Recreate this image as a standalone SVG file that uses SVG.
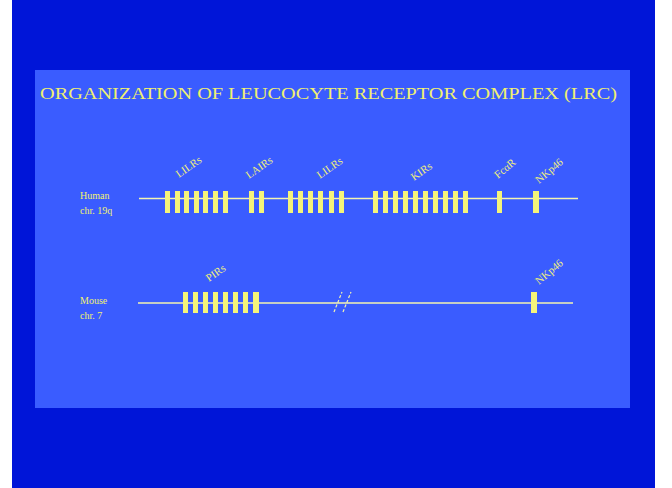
<svg xmlns="http://www.w3.org/2000/svg" width="672" height="488" viewBox="0 0 672 488">
<style>
.lbl{font-family:"Liberation Serif",serif;font-size:10px;fill:#f0f070}
.gl{font-family:"Liberation Serif",serif;font-size:11px;fill:#eeee80}
.chr{stroke:#f4f4b0;stroke-width:1.5}
.blk{fill:#f4f47a}
</style>
<rect width="672" height="488" fill="#ffffff"/>
<rect x="12" y="0" width="643" height="488" fill="#0015d8"/>
<rect x="35" y="70" width="595" height="338" fill="#3a5cff"/>
<text x="40" y="99" class="lbl" style="font-size:17px" textLength="577" lengthAdjust="spacingAndGlyphs">ORGANIZATION OF LEUCOCYTE  RECEPTOR COMPLEX (LRC)</text>

<g id="human">
<text x="80" y="199" class="lbl">Human</text>
<text x="80" y="214" class="lbl">chr. 19q</text>
</g>
<g id="mouse">
<text x="80" y="304" class="lbl">Mouse</text>
<text x="80" y="319" class="lbl">chr. 7</text>
</g>

<g id="connectors">
<line class="chr" x1="139" y1="198.5" x2="578" y2="198.5"/>
<line class="chr" x1="138" y1="303" x2="573" y2="303"/>
<line x1="334" y1="312" x2="342" y2="292" stroke="#f4f4b0" stroke-width="1.2" stroke-dasharray="3,2"/>
<line x1="343" y1="312" x2="351" y2="292" stroke="#f4f4b0" stroke-width="1.2" stroke-dasharray="3,2"/>
</g>

<g id="lilrs1">
<rect class="blk" x="165" y="191" width="5" height="22"/>
<rect class="blk" x="175" y="191" width="5" height="22"/>
<rect class="blk" x="184" y="191" width="5" height="22"/>
<rect class="blk" x="194" y="191" width="5" height="22"/>
<rect class="blk" x="203" y="191" width="5" height="22"/>
<rect class="blk" x="213" y="191" width="5" height="22"/>
<rect class="blk" x="223" y="191" width="5" height="22"/>
<text class="gl" transform="translate(179,178) rotate(-35)">LILRs</text>
</g>
<g id="lairs">
<rect class="blk" x="249" y="191" width="5" height="22"/>
<rect class="blk" x="259" y="191" width="5" height="22"/>
<text class="gl" transform="translate(249,179) rotate(-35)">LAIRs</text>
</g>
<g id="lilrs2">
<rect class="blk" x="288" y="191" width="5" height="22"/>
<rect class="blk" x="298" y="191" width="5" height="22"/>
<rect class="blk" x="308" y="191" width="5" height="22"/>
<rect class="blk" x="318" y="191" width="5" height="22"/>
<rect class="blk" x="329" y="191" width="5" height="22"/>
<rect class="blk" x="339" y="191" width="5" height="22"/>
<text class="gl" transform="translate(320,179) rotate(-35)">LILRs</text>
</g>
<g id="kirs">
<rect class="blk" x="373" y="191" width="5" height="22"/>
<rect class="blk" x="383" y="191" width="5" height="22"/>
<rect class="blk" x="393" y="191" width="5" height="22"/>
<rect class="blk" x="403" y="191" width="5" height="22"/>
<rect class="blk" x="413" y="191" width="5" height="22"/>
<rect class="blk" x="423" y="191" width="5" height="22"/>
<rect class="blk" x="433" y="191" width="5" height="22"/>
<rect class="blk" x="443" y="191" width="5" height="22"/>
<rect class="blk" x="453" y="191" width="5" height="22"/>
<rect class="blk" x="463" y="191" width="5" height="22"/>
<text class="gl" transform="translate(414,181) rotate(-35)">KIRs</text>
</g>
<g id="fcar">
<rect class="blk" x="497" y="191" width="5" height="22"/>
<text class="gl" transform="translate(498,179) rotate(-40)">FcαR</text>
</g>
<g id="nkp46-human">
<rect class="blk" x="533" y="191" width="6" height="22"/>
<text class="gl" transform="translate(539,184) rotate(-40)">NKp46</text>
</g>

<g id="pirs">
<rect class="blk" x="183" y="292" width="5" height="21"/>
<rect class="blk" x="193" y="292" width="5" height="21"/>
<rect class="blk" x="203" y="292" width="5" height="21"/>
<rect class="blk" x="213" y="292" width="5" height="21"/>
<rect class="blk" x="223" y="292" width="5" height="21"/>
<rect class="blk" x="233" y="292" width="5" height="21"/>
<rect class="blk" x="243" y="292" width="5" height="21"/>
<rect class="blk" x="253" y="292" width="6" height="21"/>
<text class="gl" transform="translate(209,282) rotate(-35)">PIRs</text>
</g>
<g id="nkp46-mouse">
<rect class="blk" x="531" y="292" width="6" height="21"/>
<text class="gl" transform="translate(539,285) rotate(-40)">NKp46</text>
</g>
</svg>
